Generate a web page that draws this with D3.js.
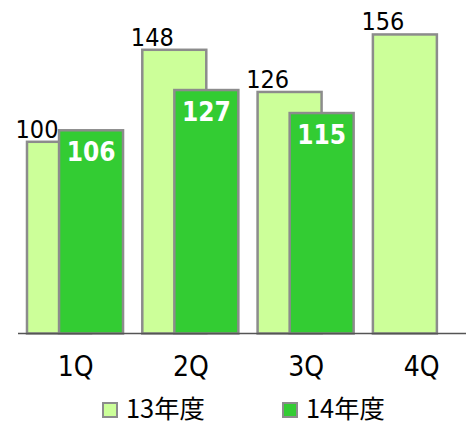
<!DOCTYPE html>
<html>
<head>
<meta charset="utf-8">
<script src="https://cdn.jsdelivr.net/npm/d3@7"></script>
<style>
  html, body { margin: 0; padding: 0; background: #fff; }
  svg { display: block; font-family: "DejaVu Sans Condensed", "DejaVu Sans", sans-serif; font-stretch: condensed; }
</style>
</head>
<body>
<svg id="chart" width="466" height="422"></svg>
<script>
// Quarterly figures for two fiscal years
const quarters = ["1Q", "2Q", "3Q", "4Q"];
const seriesNames = ["13年度", "14年度"];
const fy13 = [100, 148, 126, 156];
const fy14 = [106, 127, 115, null];
const seriesColors = ["#ccff99", "#33cc33"];

const svg = d3.select("#chart");
const baseY = 333.5;

const x0 = d3.scaleBand().domain(quarters).range([18, 479.2]).padding(0);
const bw = x0.bandwidth();
const barW = bw * 0.555;
const barOffset = [bw * 0.078, bw * 0.356];

const y = d3.scaleLinear().domain([0, 100]).range([baseY, 141.8]);

const series = [fy13, fy14];

series.forEach((vals, si) => {
  const g = svg.append("g");
  g.selectAll("rect")
    .data(quarters.map((q, i) => ({ q, v: vals[i] })).filter(d => d.v != null))
    .join("rect")
    .attr("x", d => x0(d.q) + barOffset[si])
    .attr("y", d => y(d.v))
    .attr("width", barW)
    .attr("height", d => baseY - y(d.v))
    .attr("fill", seriesColors[si])
    .attr("stroke", "#8c8c8c")
    .attr("stroke-width", 2.5);
});

// Labels for the earlier year, above the bars
svg.append("g").selectAll("text")
  .data(quarters.map((q, i) => ({ q, v: fy13[i] })))
  .join("text")
  .attr("x", d => x0(d.q) + barOffset[0] + 10)
  .attr("y", d => y(d.v) - 4)
  .attr("text-anchor", "middle")
  .attr("font-size", 25)
  .attr("fill", "#000")
  .text(d => d.v);

// Labels for the latest year, inside the bars
svg.append("g").selectAll("text")
  .data(quarters.map((q, i) => ({ q, v: fy14[i] })).filter(d => d.v != null))
  .join("text")
  .attr("x", d => x0(d.q) + barOffset[1] + barW / 2)
  .attr("y", d => y(d.v) + 31)
  .attr("text-anchor", "middle")
  .attr("font-size", 26)
  .attr("font-weight", "bold")
  .attr("fill", "#fff")
  .text(d => d.v);

// Category axis
const axis = svg.append("g").attr("transform", `translate(0,${baseY})`)
  .call(d3.axisBottom(x0).tickSize(0).tickPadding(0));
axis.select(".domain").attr("stroke", "#555").attr("stroke-width", 1.3).attr("d", "M18,0H466");
axis.selectAll("text")
  .attr("font-size", 28)
  .attr("font-family", "\"DejaVu Sans Condensed\", \"DejaVu Sans\", sans-serif")
  .attr("fill", "#000")
  .attr("dy", null)
  .attr("y", 42);

// Legend
const legendX = [103, 283];
const legend = svg.append("g");
seriesNames.forEach((name, i) => {
  legend.append("rect")
    .attr("x", legendX[i]).attr("y", 403)
    .attr("width", 14).attr("height", 14)
    .attr("fill", seriesColors[i])
    .attr("stroke", "#8c8c8c").attr("stroke-width", 2);
  legend.append("text")
    .attr("x", legendX[i] + 23).attr("y", 418)
    .attr("font-size", 25)
    .attr("textLength", 79)
    .attr("lengthAdjust", "spacingAndGlyphs")
    .attr("font-family", "\"Noto Sans CJK JP\", sans-serif")
    .attr("fill", "#000")
    .text(name);
});
</script>
</body>
</html>
